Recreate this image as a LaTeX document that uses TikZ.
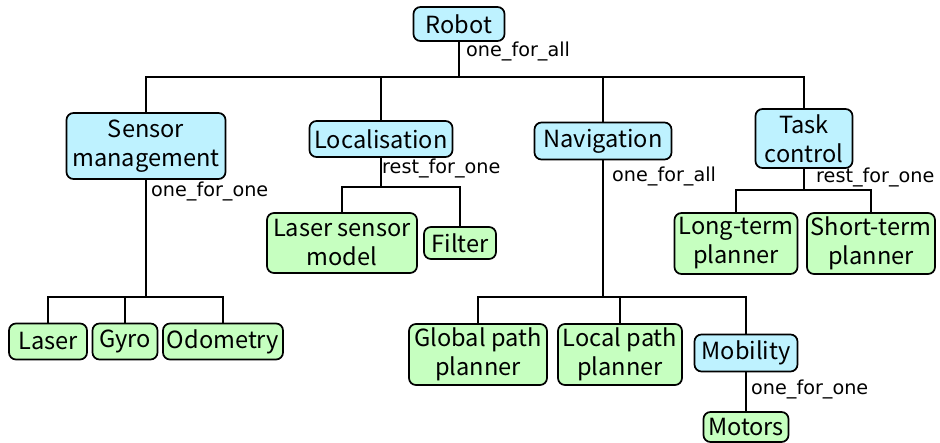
\documentclass[tikz,border=0pt]{standalone}
\usepackage{fontspec}
\newfontfamily\nodefont{Noto Sans CJK JP}
\newfontfamily\lblfont{DejaVu Sans}
\definecolor{supblue}{RGB}{190,242,255}
\definecolor{wkgreen}{RGB}{198,255,192}
\tikzset{
  box/.style={draw=black, line width=1.7pt, rounded corners=7pt, inner sep=0pt,
    align=center, font=\nodefont\fontsize{23.6}{29}\selectfont},
  sup/.style={box, fill=supblue},
  wkr/.style={box, fill=wkgreen},
  lbl/.style={anchor=west, inner sep=0pt, font=\lblfont\fontsize{19.2}{22}\selectfont},
  conn/.style={line width=2pt}
}
\begin{document}
\begin{tikzpicture}[x=1pt,y=-1pt]
\useasboundingbox (0,0) rectangle (940,443);
% supervisors
\node[sup, minimum width=91, minimum height=34] (robot) at (459,24) {Robot};
\node[sup, minimum width=159, minimum height=66] (sensor) at (146,146) {Sensor\\management};
\node[sup, minimum width=143, minimum height=36] (loc) at (381,139) {Localisation};
\node[sup, minimum width=137, minimum height=37] (nav) at (603,141) {Navigation};
\node[sup, minimum width=97, minimum height=59] (task) at (804,138.5) {Task\\control};
\node[sup, minimum width=103, minimum height=37] (mobility) at (746,353) {Mobility};
% workers
\node[wkr, minimum width=78, minimum height=36] (laser) at (48,341.5) {Laser};
\node[wkr, minimum width=65, minimum height=36] (gyro) at (125,341.5) {Gyro};
\node[wkr, minimum width=120, minimum height=36] (odo) at (223,341.5) {Odometry};
\node[wkr, minimum width=150, minimum height=60] (lsm) at (342,243) {Laser sensor\\model};
\node[wkr, minimum width=72, minimum height=32] (filter) at (460,243) {Filter};
\node[wkr, minimum width=138, minimum height=61] (global) at (478,354.5) {Global path\\planner};
\node[wkr, minimum width=124, minimum height=61] (local) at (620,354.5) {Local path\\planner};
\node[wkr, minimum width=85, minimum height=30] (motors) at (746,427) {Motors};
\node[wkr, minimum width=123, minimum height=61] (long) at (736,243.5) {Long-term\\planner};
\node[wkr, minimum width=128, minimum height=61] (short) at (871,243.5) {Short-term\\planner};
% bus coordinates
\coordinate (bus0) at (459,77);
\coordinate (bus1) at (146,297);
\coordinate (bus2) at (381,187);
\coordinate (bus3) at (603,297);
\coordinate (bus4) at (804,190);
% connectors
\draw[conn] (robot.south) -- (bus0);
\draw[conn] (sensor.north) |- (bus0) -| (task.north);
\draw[conn] (loc.north) -- (loc.north |- bus0);
\draw[conn] (nav.north) -- (nav.north |- bus0);
\draw[conn] (sensor.south) -- (bus1);
\draw[conn] (laser.north) |- (bus1) -| (odo.north);
\draw[conn] (gyro.north) -- (gyro.north |- bus1);
\draw[conn] (loc.south) -- (bus2);
\draw[conn] (lsm.north) |- (bus2) -| (filter.north);
\draw[conn] (nav.south) -- (bus3);
\draw[conn] (global.north) |- (bus3) -| (mobility.north);
\draw[conn] (local.north) -- (local.north |- bus3);
\draw[conn] (mobility.south) -- (motors.north);
\draw[conn] (task.south) -- (bus4);
\draw[conn] (long.north) |- (bus4) -| (short.north);
% strategy labels
\node[lbl] (robotlbl) at (466,51) {one\_for\_all};
\node[lbl] (sensorlbl) at (151,191) {one\_for\_one};
\node[lbl] (loclbl) at (382,168) {rest\_for\_one};
\node[lbl] (navlbl) at (612,176) {one\_for\_all};
\node[lbl] (tasklbl) at (816,177) {rest\_for\_one};
\node[lbl] (moblbl) at (751,389) {one\_for\_one};
\end{tikzpicture}
\end{document}
